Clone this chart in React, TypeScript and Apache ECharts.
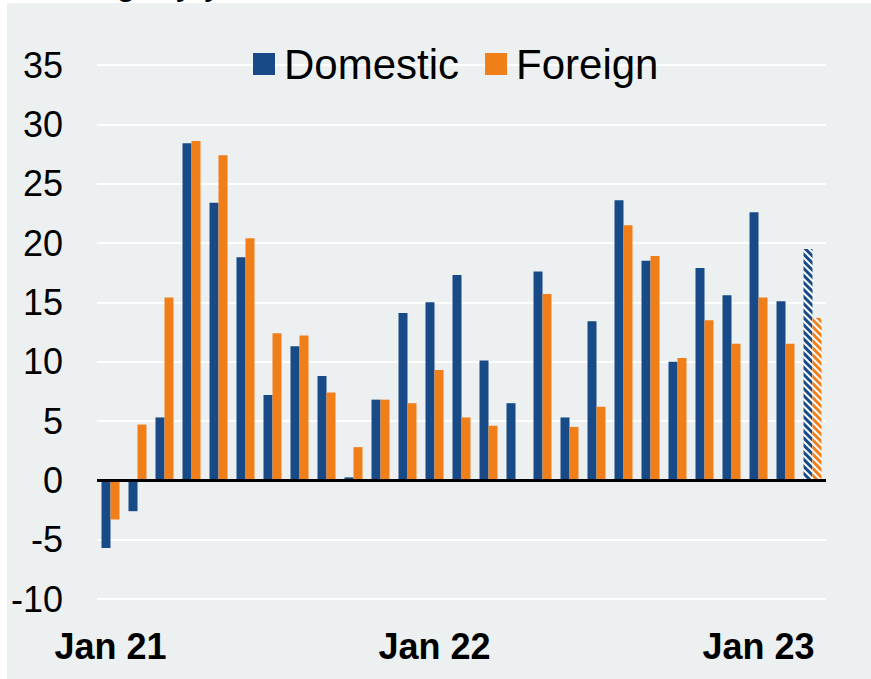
import React, { useEffect, useRef } from "react";
import * as echarts from "echarts";

const categories = [
  "Jan 21", "Feb 21", "Mar 21", "Apr 21", "May 21", "Jun 21", "Jul 21", "Aug 21", "Sep 21", "Oct 21", "Nov 21", "Dec 21",
  "Jan 22", "Feb 22", "Mar 22", "Apr 22", "May 22", "Jun 22", "Jul 22", "Aug 22", "Sep 22", "Oct 22", "Nov 22", "Dec 22",
  "Jan 23", "Feb 23", "Mar 23",
];

const domestic = [
  -5.7, -2.6, 5.3, 28.4, 23.4, 18.8, 7.2, 11.3, 8.8, 0.25, 6.8, 14.1,
  15.0, 17.3, 10.1, 6.5, 17.6, 5.3, 13.4, 23.6, 18.5, 10.0, 17.9, 15.6,
  22.6, 15.1, 19.5,
];

const foreign: (number | null)[] = [
  -3.3, 4.7, 15.4, 28.6, 27.4, 20.4, 12.4, 12.2, 7.4, 2.8, 6.8, 6.5,
  9.3, 5.3, 4.6, null, 15.7, 4.5, 6.2, 21.5, 18.9, 10.3, 13.5, 11.5,
  15.4, 11.5, 13.7,
];

// the last month is shown hatched (preliminary)
const hatchedIndex = [26];

const yMin = -10;
const yMax = 35;
const yStep = 5;

const BLUE = "#184A87";
const ORANGE = "#F07F1A";
const PANEL = "#ECF0F1";

function hatch(color: string) {
  return {
    symbol: "rect",
    symbolSize: 1,
    color,
    dashArrayX: [1, 0],
    dashArrayY: [3, 2],
    rotation: Math.PI / 4,
  };
}

function toData(values: (number | null)[], color: string) {
  return values.map((v, i) =>
    hatchedIndex.includes(i) && v !== null
      ? { value: v, itemStyle: { color: "#ffffff", decal: hatch(color) } }
      : v === null
      ? "-"
      : v
  );
}

export default function App() {
  const ref = useRef<HTMLDivElement>(null);

  useEffect(() => {
    if (!ref.current) return;
    const chart = echarts.init(ref.current, null, { renderer: "svg" });
    const font = "'Liberation Sans', Arial, sans-serif";
    chart.setOption({
      animation: false,
      backgroundColor: "#ffffff",
      graphic: [
        {
          type: "rect",
          z: -100,
          shape: { x: 7, y: 3, width: 871, height: 679 },
          style: { fill: PANEL },
          silent: true,
        },
        {
          type: "text",
          x: -4,
          y: -19,
          style: {
            text: "% change, y/y",
            fontSize: 36,
            fontFamily: font,
            fill: "#000",
            verticalAlign: "middle",
          },
          silent: true,
        },
      ],
      legend: {
        data: ["Domestic", "Foreign"],
        left: 248,
        top: 38,
        icon: "rect",
        itemWidth: 22,
        itemHeight: 22,
        itemGap: 26,
        textStyle: {
          fontSize: 42,
          fontFamily: font,
          color: "#000",
          padding: [0, 0, 0, 4],
        },
      },
      grid: { left: 97, right: 45, top: 65, bottom: 80 },
      xAxis: {
        type: "category",
        data: categories,
        axisLine: { show: false },
        axisTick: { show: false },
        splitLine: { show: false },
        axisLabel: {
          interval: 11,
          fontSize: 36,
          fontWeight: "bold",
          fontFamily: font,
          color: "#000",
          margin: 29,
        },
      },
      yAxis: {
        type: "value",
        min: yMin,
        max: yMax,
        interval: yStep,
        axisLine: { show: false },
        axisTick: { show: false },
        splitLine: { lineStyle: { color: "#ffffff", width: 2 } },
        axisLabel: {
          fontSize: 36,
          fontFamily: font,
          color: "#000",
          margin: 34,
        },
      },
      series: [
        {
          name: "Domestic",
          type: "bar",
          data: toData(domestic, BLUE),
          barWidth: 9,
          barGap: "0%",
          itemStyle: { color: BLUE },
          markLine: {
            silent: true,
            symbol: ["none", "none"],
            label: { show: false },
            lineStyle: { color: "#000", width: 3, type: "solid" },
            data: [{ yAxis: 0 }],
            z: 10,
          },
        },
        {
          name: "Foreign",
          type: "bar",
          data: toData(foreign, ORANGE),
          barWidth: 9,
          barGap: "0%",
          itemStyle: { color: ORANGE },
        },
      ],
    });
    return () => chart.dispose();
  }, []);

  return (
    <div
      ref={ref}
      style={{ position: "fixed", left: 0, top: 0, width: 871, height: 679 }}
    />
  );
}
